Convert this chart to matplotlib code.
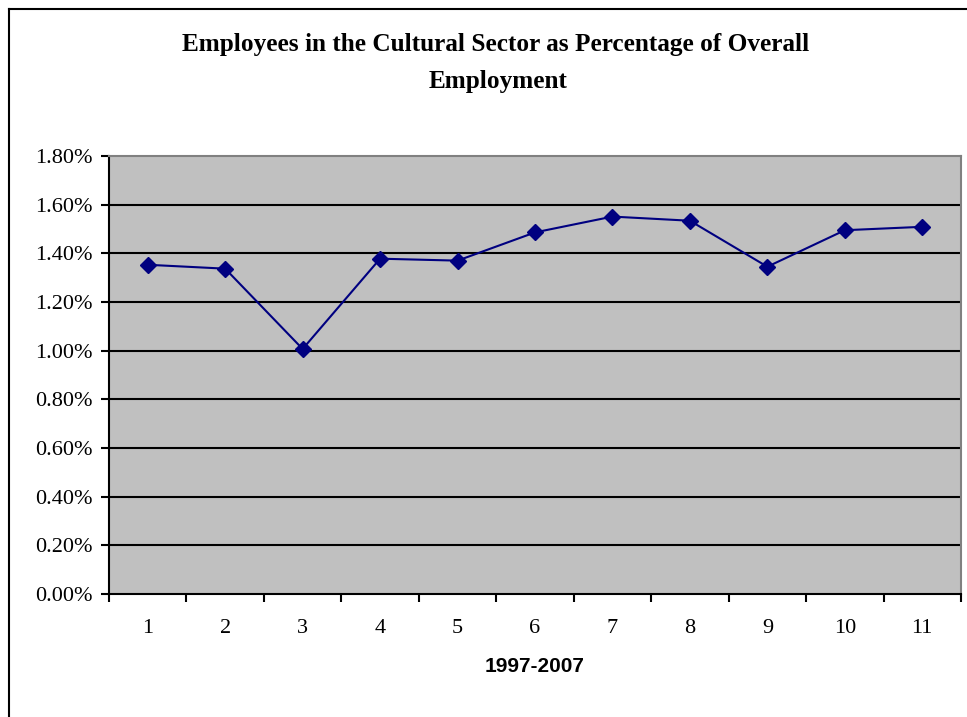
import matplotlib
matplotlib.use("Agg")
import matplotlib.pyplot as plt
from matplotlib.lines import Line2D
from matplotlib.ticker import FuncFormatter

categories = ["1", "2", "3", "4", "5", "6", "7", "8", "9", "10", "11"]
values = [1.353, 1.337, 1.007, 1.378, 1.370, 1.486, 1.551, 1.534, 1.345, 1.495, 1.509]
yticks = [0.0, 0.2, 0.4, 0.6, 0.8, 1.0, 1.2, 1.4, 1.6, 1.8]

W, H = 967, 717
fig = plt.figure(figsize=(W / 100, H / 100), dpi=100)
fig.patch.set_facecolor("white")

ax = fig.add_axes([109 / W, (H - 594) / H, 852 / W, 438 / H])
ax.set_facecolor("#C0C0C0")

x = list(range(len(categories)))
ax.plot(x, values, color="#000080", lw=1.5, marker="D", markersize=8.5,
        markerfacecolor="#000080", markeredgecolor="#000080", zorder=3)

ax.set_xlim(-0.5, len(categories) - 0.5)
ax.set_ylim(0, 1.8)
ax.set_yticks(yticks)
ax.yaxis.set_major_formatter(FuncFormatter(lambda v, p: f"{v:.2f}%"))
for yv in yticks[1:-1]:
    ax.axhline(yv, color="black", lw=1.5, zorder=1)

ax.set_xticks([i - 0.5 for i in range(len(categories) + 1)])
ax.set_xticklabels([])
ax.set_xticks(x, minor=True)
ax.set_xticklabels(categories, minor=True)
ax.tick_params(axis="x", which="minor", length=0, pad=18)
ax.tick_params(axis="x", which="major", length=6, width=1.5, direction="out")
ax.tick_params(axis="y", length=6, width=1.5, direction="out", pad=6)

for lab in ax.get_xticklabels(minor=True) + ax.get_yticklabels():
    lab.set_fontfamily("Liberation Serif")
    lab.set_fontsize(16)
    lab.set_color("black")

for side in ["left", "bottom"]:
    ax.spines[side].set_color("black")
    ax.spines[side].set_linewidth(1.5)
for side in ["top", "right"]:
    ax.spines[side].set_color("#808080")
    ax.spines[side].set_linewidth(1.5)

ax.set_xlabel("1997-2007", fontfamily="Liberation Sans", fontweight="bold",
              fontsize=15, labelpad=14)

fig.text(496 / W, 1 - 51 / H, "Employees in the Cultural Sector as Percentage of Overall",
         ha="center", va="baseline", fontfamily="Liberation Serif", fontweight="bold", fontsize=18.2)
fig.text(498 / W, 1 - 88 / H, "Employment",
         ha="center", va="baseline", fontfamily="Liberation Serif", fontweight="bold", fontsize=18.2)

fig.add_artist(Line2D([9 / W, 9 / W], [0, 1 - 9 / H], color="black", lw=1.5,
                      transform=fig.transFigure))
fig.add_artist(Line2D([9 / W, 1], [1 - 9 / H, 1 - 9 / H], color="black", lw=1.5,
                      transform=fig.transFigure))

fig.savefig("out.png", dpi=100)
